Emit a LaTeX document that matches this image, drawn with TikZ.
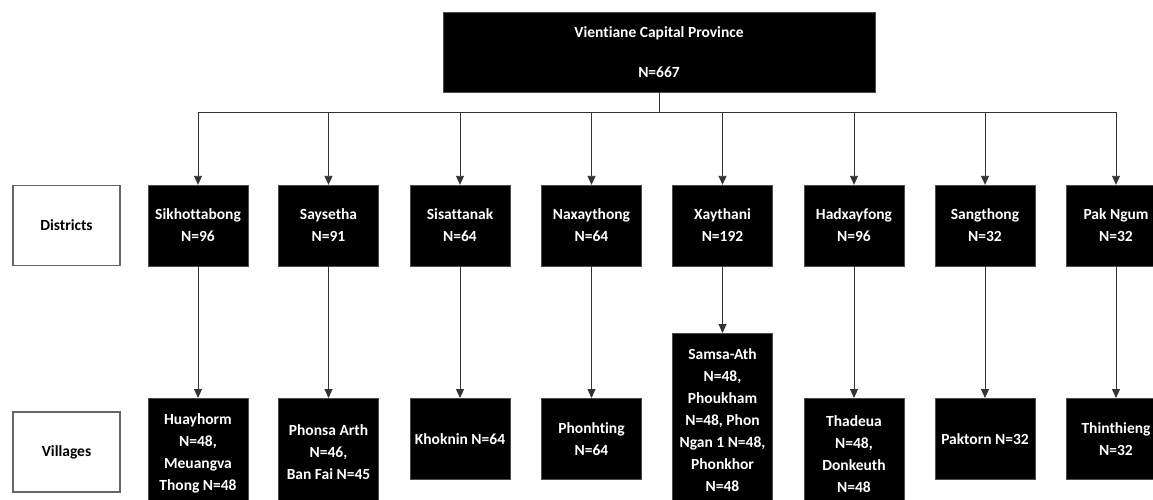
\documentclass[tikz,border=0pt]{standalone}
\usepackage{fontspec}
\setmainfont{Carlito}[Ligatures=NoCommon]
\usetikzlibrary{arrows.meta}

\begin{document}
\begin{tikzpicture}[x=1pt, y=-1pt,
    font=\fontsize{15.5}{22}\selectfont\bfseries,
    darkbox/.style={draw=black!70, fill=black, text=white, align=center, inner sep=2pt, minimum width=100pt, minimum height=81pt},
    labelbox/.style={draw=black!60, line width=1.2pt, fill=white, align=center, minimum width=107pt, minimum height=80pt},
    link/.style={draw=black!80, line width=0.9pt},
    arrow/.style={link, -{Triangle[length=9pt, width=8pt]}}]
        % Frame of the picture, cut at the right and bottom
        \path[use as bounding box, clip] (0,0) rectangle (1153,500);

        % Province at the top
        \node[darkbox, minimum width=432pt, minimum height=80pt] (prov) at (659,52) {Vientiane Capital Province\\[18pt]N=667};

        % Row labels
        \node[labelbox] (lbldist) at (66.5,225.5) {Districts};
        \node[labelbox] (lblvill) at (66.5,452) {Villages};

        % Districts
        \node[darkbox] (d1) at (198,225.5) {Sikhottabong\\N=96};
        \node[darkbox] (d2) at (328.5,225.5) {Saysetha\\N=91};
        \node[darkbox] (d3) at (460,225.5) {Sisattanak\\N=64};
        \node[darkbox] (d4) at (591.5,225.5) {Naxaythong\\N=64};
        \node[darkbox] (d5) at (722.5,225.5) {Xaythani\\N=192};
        \node[darkbox] (d6) at (854,225.5) {Hadxayfong\\N=96};
        \node[darkbox] (d7) at (985,225.5) {Sangthong\\N=32};
        \node[darkbox] (d8) at (1116,225.5) {Pak Ngum\\N=32};

        % Villages
        \node[darkbox, anchor=north, minimum height=111pt] (v1) at (198,398) {Huayhorm\\N=48,\\Meuangva\\Thong N=48};
        \node[darkbox, anchor=north, minimum height=108pt] (v2) at (328.5,398) {Phonsa Arth\\N=46,\\Ban Fai N=45};
        \node[darkbox, anchor=north] (v3) at (460,398) {Khoknin N=64};
        \node[darkbox, anchor=north] (v4) at (591.5,398) {Phonhting\\N=64};
        \node[darkbox, anchor=north, minimum height=174pt] (v5) at (722.5,333) {Samsa-Ath\\N=48,\\Phoukham\\N=48, Phon\\Ngan 1 N=48,\\Phonkhor\\N=48};
        \node[darkbox, anchor=north, minimum height=111pt] (v6) at (854,398) {Thadeua\\N=48,\\Donkeuth\\N=48};
        \node[darkbox, anchor=north] (v7) at (985,398) {Paktorn N=32};
        \node[darkbox, anchor=north] (v8) at (1116,398) {Thinthieng\\N=32};

        % Bus from the province to the districts
        \coordinate (bus) at (659,112);
        \draw[link] (prov.south) -- (bus);
        \draw[link] (bus -| d1) -- (bus -| d8);
        \foreach \i in {1,...,8} {
            \draw[arrow] (bus -| d\i) -- (d\i.north);
            \draw[arrow] (d\i.south) -- (v\i.north);
        }
    \end{tikzpicture}
\end{document}
